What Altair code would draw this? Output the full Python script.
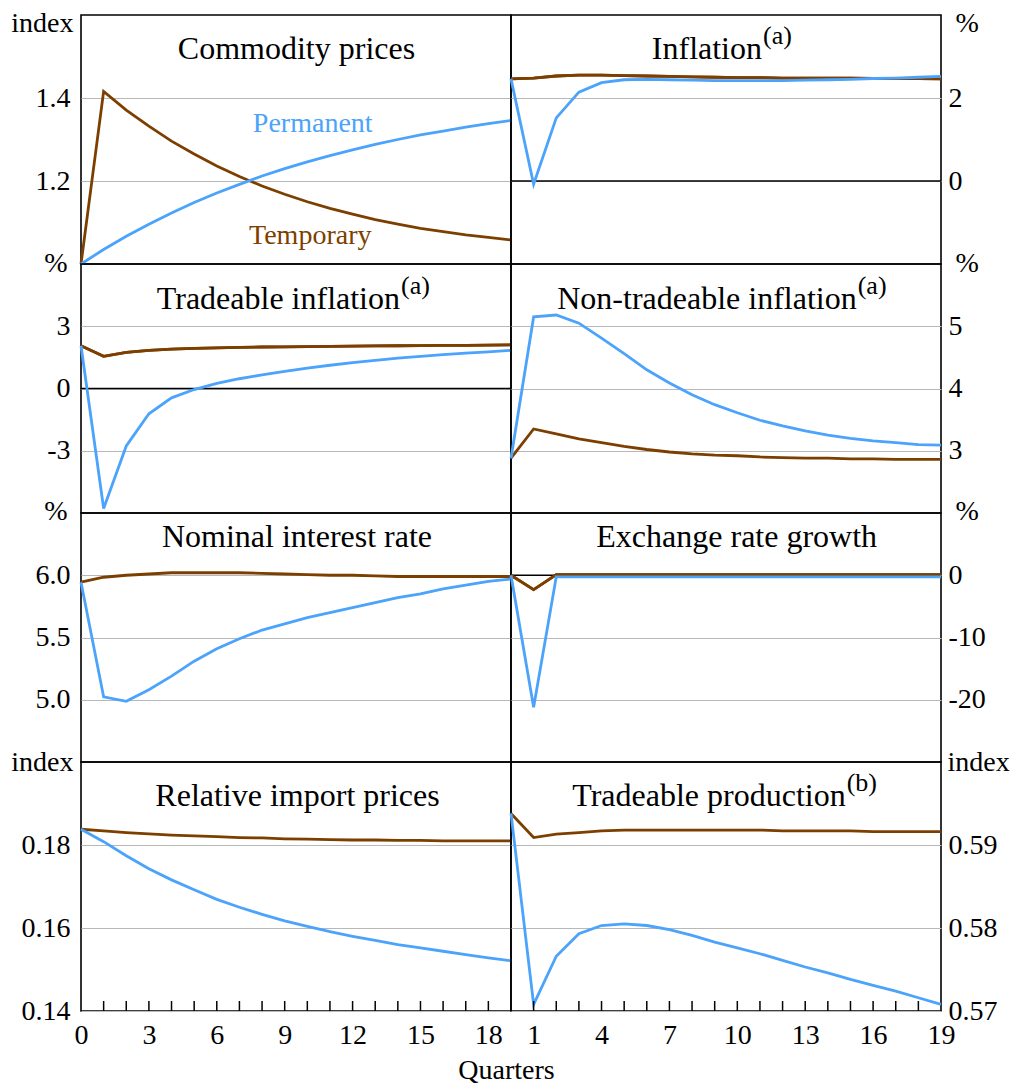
import altair as alt
import pandas as pd

# ---------------- data ----------------
QUARTERS = list(range(20))
TICKS = list(range(1, 19))
LEFT_XLABELS = [0, 3, 6, 9, 12, 15, 18]
RIGHT_XLABELS = [1, 4, 7, 10, 13, 16, 19]

comm_perm = [1.000, 1.035, 1.067, 1.096, 1.123, 1.148, 1.171, 1.192, 1.212, 1.230,
             1.246, 1.261, 1.275, 1.288, 1.300, 1.311, 1.320, 1.330, 1.338, 1.346]
comm_temp = [1.000, 1.416, 1.371, 1.332, 1.296, 1.265, 1.236, 1.211, 1.188, 1.168,
             1.150, 1.134, 1.120, 1.107, 1.096, 1.086, 1.078, 1.070, 1.064, 1.058]

infl_perm = [2.46, -0.08, 1.52, 2.14, 2.37, 2.44, 2.45, 2.44, 2.43, 2.42,
             2.42, 2.42, 2.42, 2.43, 2.44, 2.45, 2.47, 2.48, 2.50, 2.52]
infl_temp = [2.46, 2.48, 2.53, 2.55, 2.55, 2.54, 2.53, 2.52, 2.51, 2.50,
             2.49, 2.49, 2.48, 2.48, 2.48, 2.48, 2.47, 2.47, 2.47, 2.46]

trad_perm = [2.06, -5.78, -2.77, -1.22, -0.45, -0.05, 0.25, 0.47, 0.66, 0.83,
             0.98, 1.12, 1.25, 1.36, 1.46, 1.55, 1.63, 1.70, 1.77, 1.84]
trad_temp = [2.06, 1.55, 1.74, 1.84, 1.90, 1.93, 1.96, 1.98, 2.00, 2.01,
             2.02, 2.03, 2.04, 2.05, 2.06, 2.07, 2.08, 2.08, 2.09, 2.10]

nt_perm = [2.88, 5.15, 5.18, 5.05, 4.81, 4.56, 4.30, 4.09, 3.90, 3.74,
           3.61, 3.49, 3.40, 3.32, 3.25, 3.20, 3.16, 3.13, 3.10, 3.09]
nt_temp = [2.88, 3.35, 3.27, 3.19, 3.13, 3.07, 3.02, 2.98, 2.95, 2.93,
           2.92, 2.90, 2.89, 2.88, 2.88, 2.87, 2.87, 2.86, 2.86, 2.86]

nom_perm = [5.944, 5.024, 4.987, 5.08, 5.19, 5.31, 5.41, 5.49, 5.56, 5.61,
            5.66, 5.70, 5.74, 5.78, 5.82, 5.85, 5.89, 5.92, 5.95, 5.97]
nom_temp = [5.944, 5.984, 6.0, 6.01, 6.02, 6.02, 6.02, 6.02, 6.015, 6.01,
            6.005, 6.0, 6.0, 5.995, 5.99, 5.99, 5.99, 5.99, 5.99, 5.99]

fx_perm = [0.0, -21.2, -0.25, -0.25, -0.25, -0.25, -0.25, -0.25, -0.25, -0.25,
           -0.25, -0.25, -0.25, -0.25, -0.25, -0.25, -0.25, -0.25, -0.25, -0.25]
fx_temp = [0.0, -2.3, 0.1, 0.1, 0.1, 0.1, 0.1, 0.1, 0.1, 0.1,
           0.1, 0.1, 0.1, 0.1, 0.1, 0.1, 0.1, 0.1, 0.1, 0.1]

rel_perm = [0.1838, 0.1808, 0.1774, 0.1743, 0.1716, 0.1692, 0.1669, 0.1650, 0.1633, 0.1617,
            0.1604, 0.1591, 0.1580, 0.1570, 0.1560, 0.1552, 0.1544, 0.1536, 0.1528, 0.1521]
rel_temp = [0.1838, 0.1834, 0.1830, 0.1827, 0.1824, 0.1822, 0.1820, 0.1818, 0.1817, 0.1815,
            0.1814, 0.1813, 0.1812, 0.1812, 0.1811, 0.1811, 0.1810, 0.1810, 0.1810, 0.1810]

tp_perm = [0.5938, 0.5708, 0.5766, 0.5793, 0.5803, 0.5805, 0.5803, 0.5798, 0.5791, 0.5783,
           0.5776, 0.5769, 0.5761, 0.5753, 0.5746, 0.5738, 0.5731, 0.5724, 0.5716, 0.5708]
tp_temp = [0.5938, 0.5909, 0.5913, 0.5915, 0.5917, 0.5918, 0.5918, 0.5918, 0.5918, 0.5918,
           0.5918, 0.5918, 0.5917, 0.5917, 0.5917, 0.5917, 0.5916, 0.5916, 0.5916, 0.5916]

SERIES_LABELS = ["Permanent", "Temporary"]
SERIES_LABEL_Q = [10.24, 10.13]
SERIES_LABEL_V = [1.319, 1.049]

# ---------------- style ----------------
BLUE = "#4ba3fb"
BROWN = "#7d3f00"
GRID = "#b8b8b8"
FONT = "Liberation Serif"
W, H = 430, 249
MINUS = "\u2212"


def panel(title, sup, title_pos, title_base, perm, temp, domain, yvals, fmt, side,
          unit, unit_dy, bottom=False, xlabels=None, xtitle="", zero=False,
          series_labels=False):
    df_p = pd.DataFrame({"q": QUARTERS, "v": perm})
    df_t = pd.DataFrame({"q": QUARTERS, "v": temp})

    if bottom:
        x_axis = alt.Axis(values=xlabels, labelFontSize=28, labelPadding=10, tickSize=0,
                          domain=False, grid=False, labelFlush=False, labelColor="black",
                          title=xtitle, titleFontSize=28, titleFontWeight="normal",
                          titleX=425, titleY=67, titleAlign="center",
                          titleBaseline="alphabetic", titleColor="black")
    else:
        x_axis = None
    left = side == "left"
    if unit == "%":
        tx = -14 if left else 14
    else:
        tx = -8 if left else 6
    y_axis = alt.Axis(orient=side, values=yvals, format=fmt,
                      labelExpr="replace(datum.label, '" + MINUS + "', '-')",
                      grid=True, gridColor=GRID, gridWidth=1.2, tickSize=0, domain=False,
                      labelFontSize=28, labelPadding=11 if left else 7, labelColor="black",
                      labelFlush=False, labelOverlap=False,
                      title=unit, titleAngle=0, titleAlign="right" if left else "left",
                      titleBaseline="alphabetic", titleX=tx, titleY=unit_dy,
                      titleFontSize=28, titleFontWeight="normal", titleColor="black")

    X = alt.X("q:Q", scale=alt.Scale(domain=[0, 19], nice=False, zero=False), axis=x_axis)
    Y = alt.Y("v:Q", scale=alt.Scale(domain=domain, nice=False, zero=False), axis=y_axis)

    layers = []
    layers.append(alt.Chart(df_t).mark_line(color=BROWN, strokeWidth=2.8).encode(x=X, y=Y))
    if zero:
        layers.append(alt.Chart(pd.DataFrame({"v": [0]})).mark_rule(
            color="black", strokeWidth=1.5).encode(y=Y))
        layers.append(alt.Chart(df_t).mark_line(color=BROWN, strokeWidth=2.8).encode(x=X, y=Y))
    layers.append(alt.Chart(df_p).mark_line(color=BLUE, strokeWidth=2.8).encode(x=X, y=Y))

    if bottom:
        layers.append(alt.Chart(pd.DataFrame({"q": TICKS})).mark_rule(
            color="black", strokeWidth=1.5).encode(x=X, y=alt.value(H), y2=alt.value(H - 10)))

    if series_labels:
        lab = pd.DataFrame({"q": SERIES_LABEL_Q, "v": SERIES_LABEL_V, "s": SERIES_LABELS})
        layers.append(alt.Chart(lab).mark_text(fontSize=28, font=FONT, baseline="alphabetic").encode(
            x=X, y=Y, text="s:N",
            color=alt.Color("s:N", scale=alt.Scale(domain=SERIES_LABELS, range=[BLUE, BROWN]),
                            legend=None)))

    tdf = pd.DataFrame({"t": [title]})
    if sup:
        layers.append(alt.Chart(tdf).mark_text(fontSize=32, font=FONT, align="right",
                                               baseline="alphabetic", color="black").encode(
            text="t:N", x=alt.value(title_pos), y=alt.value(title_base)))
        sdf = pd.DataFrame({"t": [sup]})
        layers.append(alt.Chart(sdf).mark_text(fontSize=26, font=FONT, align="left",
                                               baseline="alphabetic", color="black").encode(
            text="t:N", x=alt.value(title_pos + 1), y=alt.value(title_base - 15)))
    else:
        layers.append(alt.Chart(tdf).mark_text(fontSize=32, font=FONT, align="center",
                                               baseline="alphabetic", color="black").encode(
            text="t:N", x=alt.value(title_pos), y=alt.value(title_base)))

    return alt.layer(*layers).properties(width=W, height=H)


p1l = panel("Commodity prices", None, 215.5, 44, comm_perm, comm_temp, [1.0, 1.6],
            [1.2, 1.4], ".1f", "left", "index", 16.5, series_labels=True)
p1r = panel("Inflation", "(a)", 251, 44, infl_perm, infl_temp, [-2, 4],
            [0, 2], "d", "right", "%", 16.5, zero=True)
p2l = panel("Tradeable inflation", "(a)", 319, 45, trad_perm, trad_temp, [-6, 6],
            [-3, 0, 3], "d", "left", "%", 7.5, zero=True)
p2r = panel("Non-tradeable inflation", "(a)", 345.7, 45, nt_perm, nt_temp, [2, 6],
            [3, 4, 5], "d", "right", "%", 7.5)
p3l = panel("Nominal interest rate", None, 216, 34, nom_perm, nom_temp, [4.5, 6.5],
            [5.0, 5.5, 6.0], ".1f", "left", "%", 6)
p3r = panel("Exchange rate growth", None, 225.7, 34, fx_perm, fx_temp, [-30, 10],
            [-20, -10, 0], "d", "right", "%", 6, zero=True)
p4l = panel("Relative import prices", None, 216.5, 44, rel_perm, rel_temp, [0.14, 0.20],
            [0.14, 0.16, 0.18], ".2f", "left", "index", 8, bottom=True,
            xlabels=LEFT_XLABELS, xtitle="Quarters")
p4r = panel("Tradeable production", "(b)", 334.7, 44, tp_perm, tp_temp, [0.57, 0.60],
            [0.57, 0.58, 0.59], ".2f", "right", "index", 8, bottom=True,
            xlabels=RIGHT_XLABELS, xtitle="")

chart = alt.concat(p1l, p1r, p2l, p2r, p3l, p3r, p4l, p4r, columns=2,
                   spacing=0, bounds="flush").properties(
    padding={"left": 1, "top": 0, "right": 0, "bottom": 0}
).configure_view(
    stroke="black", strokeWidth=1.6
).configure_axis(
    labelFont=FONT, titleFont=FONT
).configure_text(font=FONT)

chart.save("out.html", embed_options={"renderer": "svg", "actions": False})
